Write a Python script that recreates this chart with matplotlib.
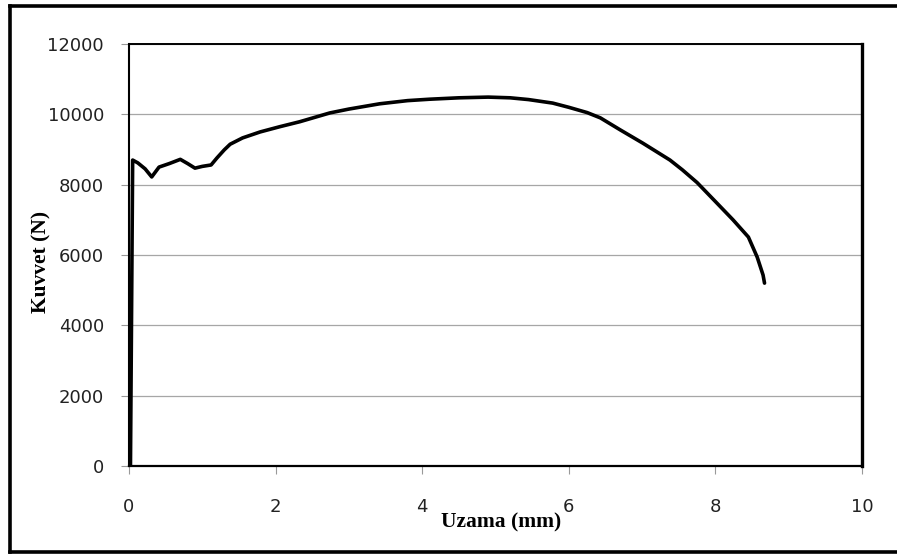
import numpy as np
import matplotlib.pyplot as plt
from matplotlib.lines import Line2D

# elongation (mm) and force (N)
uzama = [0.02, 0.05, 0.12, 0.22, 0.31, 0.41, 0.55, 0.70, 0.80, 0.90, 1.00, 1.12,
         1.20, 1.30, 1.38, 1.55, 1.79, 2.06, 2.33, 2.74, 3.00, 3.42, 3.80, 4.10,
         4.50, 4.90, 5.20, 5.45, 5.78, 6.00, 6.25, 6.43, 6.70, 7.01, 7.38, 7.55,
         7.75, 8.00, 8.24, 8.45, 8.57, 8.65, 8.67]
kuvvet = [0, 8700, 8620, 8450, 8220, 8500, 8600, 8720, 8600, 8470, 8520, 8560,
          8760, 8990, 9150, 9330, 9500, 9650, 9790, 10040, 10150, 10300, 10390, 10430,
          10470, 10490, 10470, 10420, 10320, 10200, 10050, 9900, 9560, 9180, 8700, 8420,
          8060, 7520, 7000, 6510, 5940, 5430, 5200]

x_ticks = [0, 2, 4, 6, 8, 10]
y_ticks = [0, 2000, 4000, 6000, 8000, 10000, 12000]

fig = plt.figure(figsize=(8.97, 5.55), dpi=100)
ax = fig.add_axes([0.1438, 0.1604, 0.961 - 0.1438, 0.9207 - 0.1604])

ax.plot(uzama, kuvvet, color="black", lw=2.6, solid_joinstyle="round",
        solid_capstyle="round", zorder=3)

ax.set_xlim(0, 10)
ax.set_ylim(0, 12000)
ax.set_xticks(x_ticks)
ax.set_yticks(y_ticks)
ax.grid(axis="y", color="#a6a6a6", lw=0.9)
ax.set_axisbelow(True)

ax.tick_params(axis="x", direction="out", length=6, color="#999999", pad=17,
               labelsize=13, labelcolor="#222222")
ax.tick_params(axis="y", direction="out", length=6, color="#999999", pad=12,
               labelsize=13, labelcolor="#222222")

ax.spines["left"].set_linewidth(1.5)
ax.spines["bottom"].set_linewidth(1.6)
ax.spines["top"].set_linewidth(1.4)
ax.spines["right"].set_linewidth(2.4)
for s in ax.spines.values():
    s.set_color("black")

fig.text(501 / 897, 1 - 522 / 555, "Uzama (mm)", family="Liberation Serif",
         weight="bold", fontsize=15.5, ha="center", va="center")
fig.text(41 / 897, 1 - 262 / 555, "Kuvvet (N)", family="Liberation Serif",
         weight="bold", fontsize=15.5, ha="center", va="center", rotation=90)

# outer frame (right edge is cropped in the reference)
fx0, fy0, fy1 = 10 / 897, 1 - 552 / 555, 1 - 6 / 555
for xs, ys in [([fx0, fx0], [fy0, fy1]), ([fx0, 1.0], [fy1, fy1]), ([fx0, 1.0], [fy0, fy0])]:
    fig.add_artist(Line2D(xs, ys, transform=fig.transFigure, color="black", lw=2.6))

fig.savefig("out.png", dpi=100)
